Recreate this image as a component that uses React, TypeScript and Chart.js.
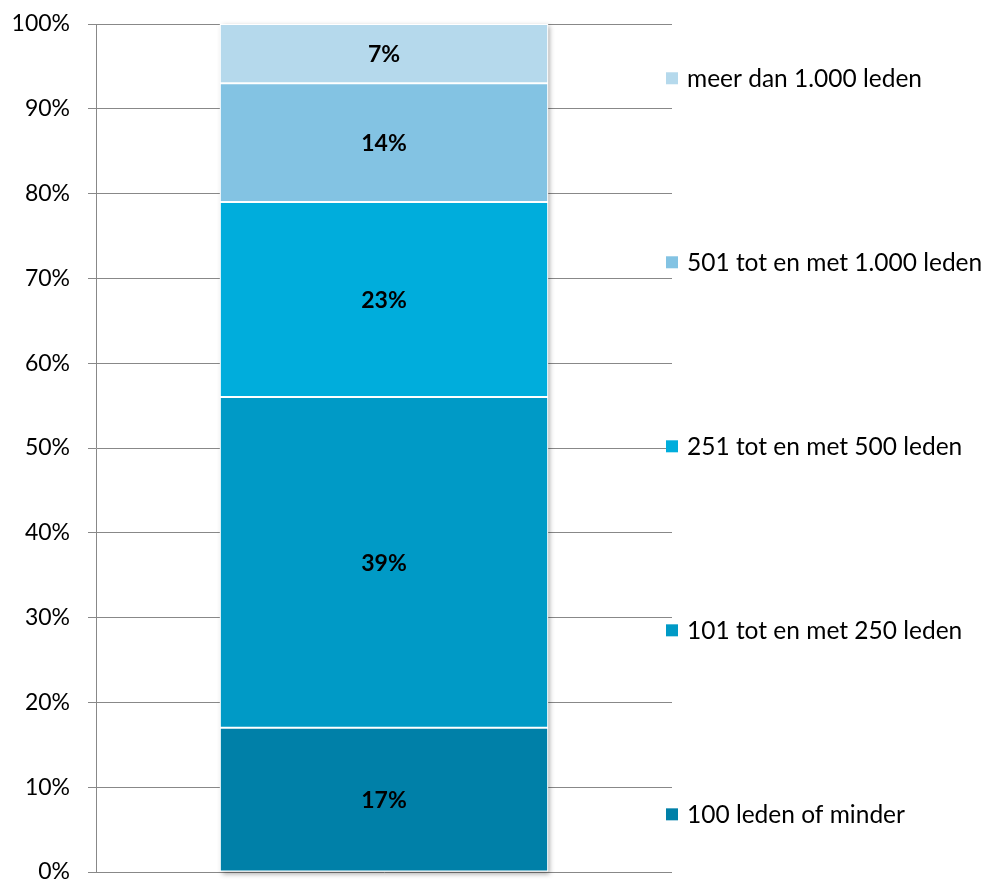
import React, { useEffect, useRef } from "react";
import { Chart, registerables } from "chart.js";

Chart.register(...registerables);

const categories = [""];
const seriesNames = [
  "100 leden of minder",
  "101 tot en met 250 leden",
  "251 tot en met 500 leden",
  "501 tot en met 1.000 leden",
  "meer dan 1.000 leden",
];
const seriesValues = [17, 39, 23, 14, 7];
const seriesColors = ["#0080A8", "#009AC6", "#00ADDC", "#83C3E3", "#B5D9EC"];
const tickStep = 10;

const FONT = "Lato, 'Open Sans', sans-serif";

const labelPlugin = {
  id: "segLabels",
  afterDatasetsDraw(chart: any) {
    const ctx = chart.ctx;
    ctx.save();
    ctx.font = `bold 23px ${FONT}`;
    ctx.fillStyle = "#000";
    ctx.textAlign = "center";
    ctx.textBaseline = "middle";
    chart.data.datasets.forEach((ds: any, i: number) => {
      const meta = chart.getDatasetMeta(i);
      meta.data.forEach((el: any, j: number) => {
        const y = (el.y + el.base) / 2;
        ctx.fillText(ds.data[j] + "%", el.x, y + 1);
      });
    });
    ctx.restore();
  },
};

const legendPlugin = {
  id: "customLegend",
  afterDraw(chart: any) {
    const ctx = chart.ctx;
    const a = chart.chartArea;
    const h = a.bottom - a.top;
    const first = a.top + 0.064 * h;
    const last = a.bottom - 0.068 * h;
    const n = chart.data.datasets.length;
    const step = (last - first) / (n - 1);
    ctx.save();
    ctx.font = `24.5px ${FONT}`;
    ctx.textBaseline = "middle";
    ctx.textAlign = "left";
    for (let k = 0; k < n; k++) {
      const idx = n - 1 - k;
      const ds = chart.data.datasets[idx];
      const y = first + k * step;
      ctx.fillStyle = ds.backgroundColor;
      ctx.fillRect(a.right - 6, y - 6, 12, 12);
      ctx.fillStyle = "#000";
      ctx.fillText(ds.label, a.right + 15, y + 1);
    }
    ctx.restore();
  },
};

const shadowPlugin = {
  id: "barShadow",
  beforeDatasetsDraw(chart: any) {
    const ctx = chart.ctx;
    const metaTop = chart.getDatasetMeta(chart.data.datasets.length - 1);
    const metaBot = chart.getDatasetMeta(0);
    const top = metaTop.data[0];
    const bot = metaBot.data[0];
    if (!top || !bot) return;
    const left = top.x - top.width / 2;
    const w = top.width;
    ctx.save();
    ctx.shadowColor = "rgba(0,0,0,0.35)";
    ctx.shadowBlur = 5;
    ctx.shadowOffsetX = 2;
    ctx.shadowOffsetY = 2;
    ctx.fillStyle = "#ffffff";
    ctx.fillRect(left, top.y, w, bot.base - top.y);
    ctx.restore();
  },
};

export default function App() {
  const ref = useRef<HTMLCanvasElement | null>(null);
  useEffect(() => {
    if (!ref.current) return;
    const chart = new Chart(ref.current, {
      type: "bar",
      data: {
        labels: categories,
        datasets: seriesNames.map((name, i) => ({
          label: name,
          data: [seriesValues[i]],
          backgroundColor: seriesColors[i],
          borderColor: "#ffffff",
          borderWidth: 1,
          borderSkipped: false,
          categoryPercentage: 1,
          barPercentage: 0.57,
        })),
      },
      options: {
        animation: false,
        responsive: false,
        maintainAspectRatio: false,
        layout: { padding: { top: 24, right: 311, bottom: 10, left: 0 } },
        plugins: {
          legend: { display: false },
          tooltip: { enabled: false },
        },
        scales: {
          x: {
            stacked: true,
            display: false,
          },
          y: {
            stacked: true,
            min: 0,
            max: 100,
            afterFit(scale: any) {
              scale.width = 96;
              scale.paddingTop = 0;
              scale.paddingBottom = 0;
            },
            ticks: {
              stepSize: tickStep,
              padding: 18,
              color: "#000",
              font: { family: FONT, size: 23 },
              callback: (v: any) => v + "%",
            },
            grid: {
              color: "#888888",
              lineWidth: 1,
              tickLength: 8,
              drawTicks: true,
            },
            border: { display: true, color: "#888888", width: 1 },
          },
        },
      },
      plugins: [shadowPlugin, labelPlugin, legendPlugin],
    });
    return () => chart.destroy();
  }, []);
  return (
    <div style={{ position: "absolute", left: 0, top: 0, width: 983, height: 882, background: "#fff" }}>
      <canvas ref={ref} width={983} height={882} style={{ width: 983, height: 882 }} />
    </div>
  );
}
